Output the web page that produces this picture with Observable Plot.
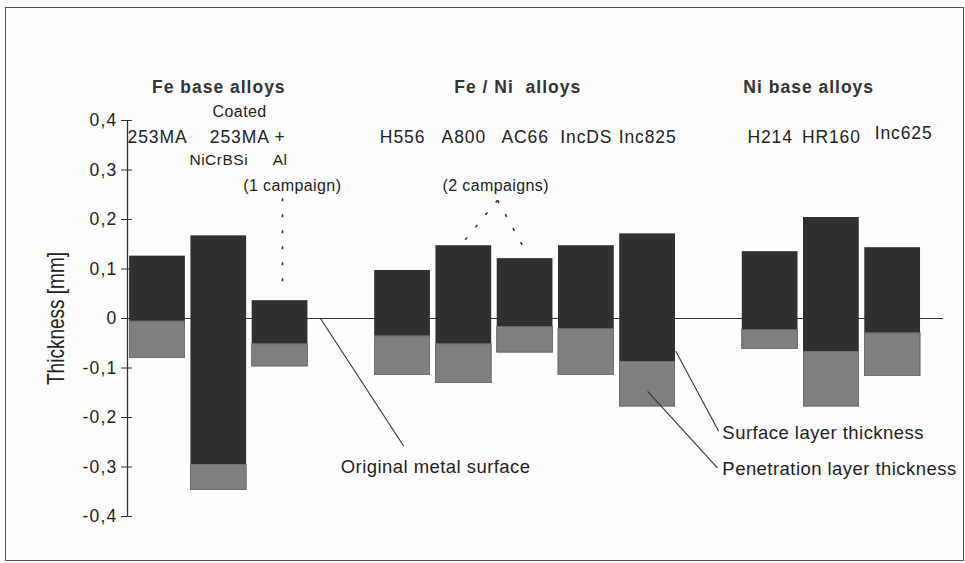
<!DOCTYPE html>
<html>
<head>
<meta charset="utf-8">
<script src="https://cdn.jsdelivr.net/npm/d3@7"></script>
<script src="https://cdn.jsdelivr.net/npm/@observablehq/plot@0.6"></script>
<style>
  html, body { margin: 0; padding: 0; background: #fff; }
  #wrap { position: relative; width: 965px; height: 563px; overflow: hidden; background: #fdfdfd; }
  #border { position: absolute; left: 5px; top: 7px; width: 959px; height: 554px; border: 1.5px solid #555; box-sizing: border-box; pointer-events: none; }
  #chart svg { display: block; }
  .grp text { letter-spacing: 1px; }
  .lbl text { letter-spacing: 0.9px; }
  .sub text { letter-spacing: 0.5px; }
  .note text { letter-spacing: 0.4px; }
  .lead text { letter-spacing: 0.45px; }
  .yticks text { letter-spacing: 1.2px; }
</style>
</head>
<body>
<div id="wrap"><div id="chart"></div><div id="border"></div></div>
<script>
// ---- data ----
const categories = ["253MA", "253MA NiCrBSi", "253MA Al", "H556", "A800", "AC66", "IncDS", "Inc825", "H214", "HR160", "Inc625"];
const slots = [0, 1, 2, 4, 5, 6, 7, 8, 10, 11, 12];
const surfaceTop = [0.126, 0.167, 0.036, 0.097, 0.147, 0.121, 0.147, 0.171, 0.135, 0.204, 0.143];
const penetrationTop = [-0.006, -0.295, -0.052, -0.036, -0.052, -0.017, -0.021, -0.087, -0.023, -0.067, -0.030];
const penetrationBottom = [-0.080, -0.347, -0.097, -0.115, -0.131, -0.069, -0.115, -0.178, -0.062, -0.178, -0.117];
const topLabels = ["253MA", "253MA", "+", "H556", "A800", "AC66", "IncDS", "Inc825", "H214", "HR160", "Inc625"];
const subLabels = ["", "NiCrBSi", "Al", "", "", "", "", "", "", "", ""];
const groupNames = ["Fe base alloys", "Fe / Ni  alloys", "Ni base alloys"];
const groupCenters = [1.0, 5.88, 10.63];
const yTicks = [-0.4, -0.3, -0.2, -0.1, 0, 0.1, 0.2, 0.3, 0.4];

// annotations (data coordinates: slot, thickness)
const notes = [
  {text: "Coated", x: 1.34, y: 0.417},
  {text: "(1 campaign)", x: 2.2, y: 0.268},
  {text: "(2 campaigns)", x: 5.52, y: 0.268}
];
const leaderNotes = [
  {text: "Original metal surface", x: 2.99, y: -0.300},
  {text: "Surface layer thickness", x: 9.22, y: -0.232},
  {text: "Penetration layer thickness", x: 9.22, y: -0.304}
];
const solidLeaders = [
  {x1: 2.66, y1: 0.0, x2: 4.02, y2: -0.258},
  {x1: 8.46, y1: -0.066, x2: 9.16, y2: -0.228},
  {x1: 8.0, y1: -0.147, x2: 9.14, y2: -0.302}
];
const dottedLeaders = [
  {x1: 2.04, y1: 0.243, x2: 2.04, y2: 0.070},
  {x1: 5.55, y1: 0.239, x2: 5.01, y2: 0.157},
  {x1: 5.55, y1: 0.239, x2: 5.96, y2: 0.147}
];

const rows = categories.map((c, i) => ({
  name: c, slot: slots[i], top: surfaceTop[i], pen: penetrationTop[i], bottom: penetrationBottom[i],
  label: topLabels[i], sub: subLabels[i]
}));
const groups = groupNames.map((g, i) => ({name: g, x: groupCenters[i]}));

const xDomain = [-0.49, 12.83];
const half = 0.455;
const font = "'Liberation Sans', Arial, Helvetica, sans-serif";
const fmt = d => Math.abs(d) < 1e-9 ? "0" : d.toFixed(1).replace(".", ",");
const labelNudge = {1: [21, 0], 10: [11, -4]};

const chart = Plot.plot({
  width: 965,
  height: 563,
  marginTop: 120,
  marginBottom: 47,
  marginLeft: 127,
  marginRight: 22,
  style: {fontFamily: font, background: "transparent", color: "#222"},
  x: {type: "linear", domain: xDomain, axis: null},
  y: {domain: [-0.4, 0.4], axis: null},
  marks: [
    // zero line (original metal surface)
    Plot.ruleY([0], {stroke: "#333", strokeWidth: 1.2}),
    // y axis line and ticks
    Plot.ruleX([xDomain[0]], {y1: -0.4, y2: 0.4, stroke: "#333", strokeWidth: 1.3}),
    Plot.axisY({ticks: yTicks, tickSize: 11, dx: 5, tickFormat: () => "", label: null, stroke: "#333"}),
    Plot.axisY({ticks: yTicks, tickSize: 0, tickPadding: 10, tickFormat: fmt, label: null, fontSize: 17.5, fill: "#222", className: "yticks"}),
    Plot.text(["Thickness [mm]"], {x: xDomain[0], y: 0, dx: -71, rotate: -90, fontSize: 24, className: "ylabel",
      fontFamily: "'Liberation Sans Narrow', 'Arial Narrow', 'Liberation Sans', sans-serif", fill: "#222"}),
    // surface layer
    Plot.rect(rows, {x1: d => d.slot - half, x2: d => d.slot + half, y1: "pen", y2: "top", fill: "#303030", className: "surf"}),
    // penetration layer
    Plot.rect(rows, {x1: d => d.slot - half, x2: d => d.slot + half, y1: "bottom", y2: "pen", fill: "#7b7b7b", stroke: "#4a4a4a", strokeWidth: 0.8, className: "pen"}),
    // leaders
    Plot.link(solidLeaders, {x1: "x1", y1: "y1", x2: "x2", y2: "y2", stroke: "#333", strokeWidth: 1.1}),
    Plot.link(dottedLeaders, {x1: "x1", y1: "y1", x2: "x2", y2: "y2", stroke: "#333", strokeWidth: 1.6, strokeDasharray: "3,13"}),
    // group titles
    Plot.text(groups, {x: "x", y: 0.466, text: "name", fontSize: 17.5, fontWeight: "bold", fill: "#333", className: "grp"}),
    // bar labels
    ...rows.map((r, i) => Plot.text([r], {x: "slot", y: 0.365, text: "label", fontSize: 17.5, fill: "#222", className: "lbl",
      dx: (labelNudge[i] || [0, 0])[0], dy: (labelNudge[i] || [0, 0])[1]})),
    Plot.text(rows.filter(r => r.sub), {x: "slot", y: 0.32, text: "sub", fontSize: 15.5, fill: "#222", className: "sub"}),
    // notes
    Plot.text(notes, {x: "x", y: "y", text: "text", fontSize: 16, fill: "#222", className: "note"}),
    Plot.text(leaderNotes, {x: "x", y: "y", text: "text", textAnchor: "start", fontSize: 18.5, fill: "#222", className: "lead"})
  ]
});

// subtle speckle texture for the scanned-look penetration fill
const svg = d3.select(chart);
const defs = svg.insert("defs", ":first-child");
const f1 = defs.append("filter").attr("id", "grainLight").attr("x", 0).attr("y", 0).attr("width", "100%").attr("height", "100%");
f1.append("feTurbulence").attr("type", "fractalNoise").attr("baseFrequency", 1.0).attr("numOctaves", 1).attr("seed", 4).attr("result", "noise");
f1.append("feColorMatrix").attr("in", "noise").attr("type", "matrix")
  .attr("values", "0 0 0 0 0.25  0 0 0 0 0.25  0 0 0 0 0.25  1.6 0 0 0 -0.55").attr("result", "dots");
f1.append("feComposite").attr("in", "dots").attr("in2", "SourceGraphic").attr("operator", "in").attr("result", "clipped");
const m1 = f1.append("feMerge");
m1.append("feMergeNode").attr("in", "SourceGraphic");
m1.append("feMergeNode").attr("in", "clipped");
svg.selectAll(".pen rect").attr("filter", "url(#grainLight)");
svg.selectAll(".ylabel text").attr("textLength", 133).attr("lengthAdjust", "spacingAndGlyphs");

document.getElementById("chart").append(chart);
</script>
</body>
</html>
